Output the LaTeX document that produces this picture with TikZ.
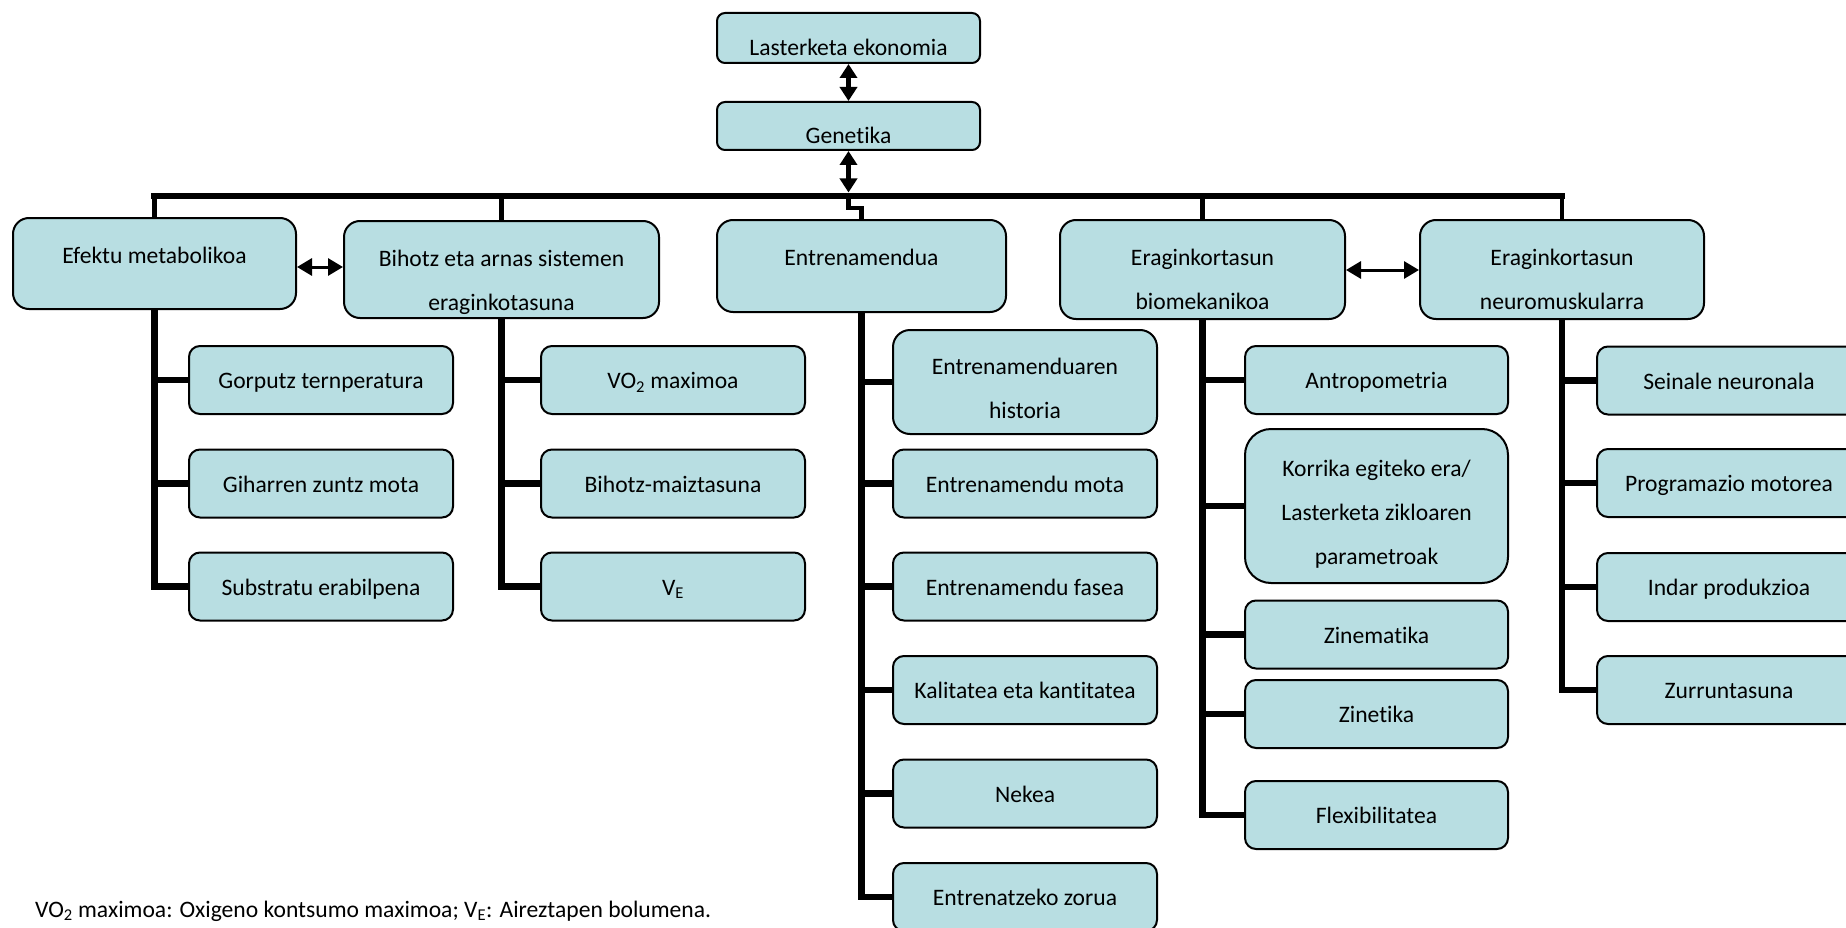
\documentclass[tikz,border=0pt]{standalone}
\usepackage{fontspec}
\setmainfont{Carlito}[Ligatures=NoCommon]
\usetikzlibrary{arrows.meta}
\definecolor{boxfill}{RGB}{184,222,226}
\newcommand{\mytopstrut}[1]{\rule{0pt}{#1}}
\begin{document}
\begin{tikzpicture}[x=1pt,y=-1pt,
  font=\fontsize{23.6}{44}\selectfont,
  base/.style={draw=black, line width=2pt, fill=boxfill, inner sep=0pt, text=black},
  leaf/.style={base, minimum width=264pt, minimum height=68pt, rounded corners=11pt},
  one/.style={text height=22pt, text depth=5pt},
  cat/.style={base, rounded corners=16pt},
  topbox/.style={base, minimum width=263pt, rounded corners=8pt, text height=35pt, text depth=0pt},
  barline/.style={line width=6.5pt, line cap=rect},
  conn/.style={line width=4.5pt},
  trunk/.style={line width=6.5pt},
  dbl/.style={line width=5.5pt, {Triangle[length=14pt,width=17pt]}-{Triangle[length=14pt,width=17pt]}},
  hdbl/.style={line width=3pt, {Triangle[length=15pt,width=17pt]}-{Triangle[length=15pt,width=17pt]}}
]
\useasboundingbox (0,0) rectangle (1846,928);

% top chain
\node[topbox, minimum height=50pt] (last) at (848.5,38) {Lasterketa ekonomia};
\node[topbox, minimum height=48pt] (gen) at (848.5,126) {Genetika};

% categories
\node[cat, minimum width=283pt, minimum height=91pt, text height=18pt, text depth=19pt] (efek) at (154.5,263.5) {Efektu metabolikoa};
\node[cat, minimum width=315pt, minimum height=97pt, align=center] (biho) at (501.5,269.5) {\mytopstrut{42pt}Bihotz eta arnas sistemen\\eraginkotasuna};
\node[cat, minimum width=289pt, minimum height=92pt, text height=18pt, text depth=19pt] (entr) at (861.5,266) {Entrenamendua};
\node[cat, minimum width=285pt, minimum height=99pt, align=center] (biom) at (1202.5,269.5) {\mytopstrut{37pt}Eraginkortasun\\biomekanikoa};
\node[cat, minimum width=284pt, minimum height=99pt, align=center] (neur) at (1562,269.5) {\mytopstrut{37pt}Eraginkortasun\\neuromuskularra};

% children of Efektu metabolikoa
\node[leaf, one] (gorp) at (321,380) {Gorputz ternperatura};
\node[leaf, one] (giha) at (321,483.5) {Giharren zuntz mota};
\node[leaf, one] (subs) at (321,586.5) {Substratu erabilpena};

% children of Bihotz eta arnas sistemen eraginkotasuna
\node[leaf, one] (vo) at (673,380) {VO\textsubscript{2} maximoa};
\node[leaf, one] (bmz) at (673,483.5) {Bihotz-maiztasuna};
\node[leaf, one] (ve) at (673,586.5) {V\textsubscript{E}};

% children of Entrenamendua
\node[leaf, minimum height=104pt, rounded corners=17pt, align=center] (hist) at (1025,382) {\mytopstrut{29pt}Entrenamenduaren\\historia};
\node[leaf, one] (mota) at (1025,483.5) {Entrenamendu mota};
\node[leaf, one] (fase) at (1025,586.5) {Entrenamendu fasea};
\node[leaf, one] (kali) at (1025,690) {Kalitatea eta kantitatea};
\node[leaf, one] (neke) at (1025,793.5) {Nekea};
\node[leaf, one] (zoru) at (1025,897) {Entrenatzeko zorua};

% children of Eraginkortasun biomekanikoa
\node[leaf, one, minimum width=263pt] (antr) at (1376.5,380) {Antropometria};
\node[leaf, minimum width=263pt, minimum height=154pt, rounded corners=26pt, align=center] (korr) at (1376.5,506) {\mytopstrut{33pt}Korrika egiteko era/\\Lasterketa zikloaren\\parametroak};
\node[leaf, one, minimum width=263pt] (zinm) at (1376.5,634.5) {Zinematika};
\node[leaf, one, minimum width=263pt] (zint) at (1376.5,714) {Zinetika};
\node[leaf, one, minimum width=263pt] (flex) at (1376.5,815) {Flexibilitatea};

% children of Eraginkortasun neuromuskularra
\node[leaf, one] (sein) at (1729,380.5) {Seinale neuronala};
\node[leaf, one] (prog) at (1729,483) {Programazio motorea};
\node[leaf, one] (inda) at (1729,587) {Indar produkzioa};
\node[leaf, one] (zurr) at (1729,690) {Zurruntasuna};

% footnote
\node[anchor=west, inner sep=0pt] (note) at (35,911) {VO\textsubscript{2} maximoa: Oxigeno kontsumo maximoa; V\textsubscript{E}: Aireztapen bolumena.};

% coordinates
\coordinate (bar) at (848.5,196);
\coordinate (bartip) at (848.5,192.5);
\coordinate (jog) at (848.5,208);
\coordinate (ya) at (0,267);
\coordinate (yb) at (0,270);

% top arrows
\draw[dbl] (last.south) -- (gen.north);
\draw[dbl] (gen.south) -- (bartip);

% bar and connectors to categories
\draw[conn] (efek.north |- bar) -- (efek.north);
\draw[conn] (biho.north |- bar) -- (biho.north);
\draw[conn] (biom.north |- bar) -- (biom.north);
\draw[conn] (neur.north |- bar) -- (neur.north);
\draw[conn] (bar) -- (jog) -| (entr.north);
\draw[barline] (efek.north |- bar) -- (neur.north |- bar);

% horizontal double arrows
\draw[hdbl] (efek.east |- ya) -- (biho.west |- ya);
\draw[hdbl] (biom.east |- yb) -- (neur.west |- yb);

% trunks
\draw[trunk] (efek.south) |- (subs.west);
\draw[trunk] (efek.south |- gorp.west) -- (gorp.west);
\draw[trunk] (efek.south |- giha.west) -- (giha.west);

\draw[trunk] (biho.south) |- (ve.west);
\draw[trunk] (biho.south |- vo.west) -- (vo.west);
\draw[trunk] (biho.south |- bmz.west) -- (bmz.west);

\draw[trunk] (entr.south) |- (zoru.west);
\draw[trunk] (entr.south |- hist.west) -- (hist.west);
\draw[trunk] (entr.south |- mota.west) -- (mota.west);
\draw[trunk] (entr.south |- fase.west) -- (fase.west);
\draw[trunk] (entr.south |- kali.west) -- (kali.west);
\draw[trunk] (entr.south |- neke.west) -- (neke.west);

\draw[trunk] (biom.south) |- (flex.west);
\draw[trunk] (biom.south |- antr.west) -- (antr.west);
\draw[trunk] (biom.south |- korr.west) -- (korr.west);
\draw[trunk] (biom.south |- zinm.west) -- (zinm.west);
\draw[trunk] (biom.south |- zint.west) -- (zint.west);

\draw[trunk] (neur.south) |- (zurr.west);
\draw[trunk] (neur.south |- sein.west) -- (sein.west);
\draw[trunk] (neur.south |- prog.west) -- (prog.west);
\draw[trunk] (neur.south |- inda.west) -- (inda.west);
\end{tikzpicture}
\end{document}
